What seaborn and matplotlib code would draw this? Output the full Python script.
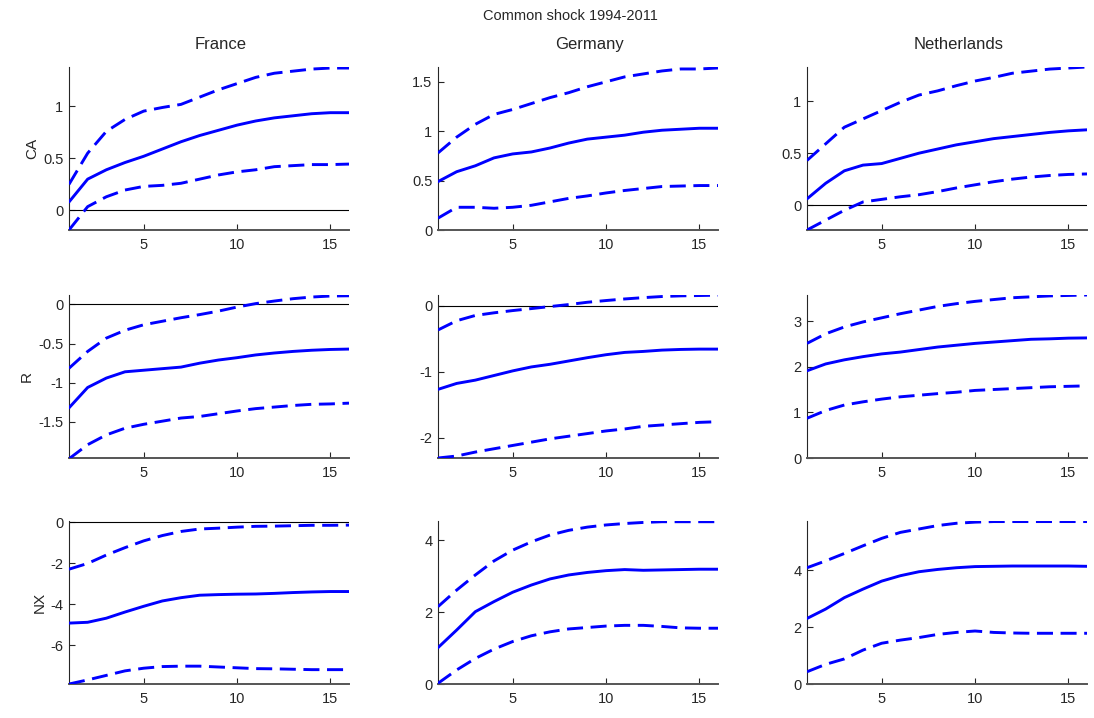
import matplotlib
matplotlib.use("Agg")
import matplotlib.pyplot as plt
import pandas as pd
import seaborn as sns

horizon = list(range(1, 17))
countries = ["France", "Germany", "Netherlands"]
variables = ["CA", "R", "NX"]

# CA responses
fr_ca_mid = [0.08, 0.30, 0.39, 0.46, 0.52, 0.59, 0.66, 0.72, 0.77, 0.82, 0.86, 0.89, 0.91, 0.93, 0.94, 0.94]
fr_ca_lo = [-0.19, 0.035, 0.13, 0.195, 0.23, 0.24, 0.26, 0.30, 0.34, 0.37, 0.39, 0.42, 0.43, 0.44, 0.44, 0.445]
fr_ca_hi = [0.25, 0.55, 0.76, 0.875, 0.955, 0.99, 1.02, 1.09, 1.16, 1.22, 1.28, 1.32, 1.34, 1.36, 1.37, 1.37]
de_ca_mid = [0.49, 0.59, 0.65, 0.73, 0.77, 0.79, 0.83, 0.88, 0.92, 0.94, 0.96, 0.99, 1.01, 1.02, 1.03, 1.03]
de_ca_lo = [0.12, 0.23, 0.23, 0.22, 0.23, 0.25, 0.285, 0.32, 0.345, 0.375, 0.40, 0.42, 0.44, 0.445, 0.45, 0.45]
de_ca_hi = [0.78, 0.94, 1.07, 1.17, 1.22, 1.28, 1.34, 1.39, 1.45, 1.50, 1.55, 1.58, 1.61, 1.63, 1.63, 1.64]
nl_ca_mid = [0.06, 0.21, 0.33, 0.385, 0.40, 0.45, 0.50, 0.54, 0.58, 0.61, 0.64, 0.66, 0.68, 0.70, 0.715, 0.725]
nl_ca_lo = [-0.24, -0.145, -0.05, 0.03, 0.055, 0.08, 0.10, 0.13, 0.165, 0.195, 0.225, 0.25, 0.27, 0.285, 0.295, 0.30]
nl_ca_hi = [0.43, 0.59, 0.75, 0.83, 0.91, 0.99, 1.06, 1.10, 1.15, 1.195, 1.23, 1.27, 1.29, 1.31, 1.32, 1.33]

# R responses
fr_r_mid = [-1.32, -1.06, -0.94, -0.86, -0.84, -0.82, -0.80, -0.75, -0.71, -0.68, -0.645, -0.62, -0.60, -0.585, -0.575, -0.57]
fr_r_lo = [-1.97, -1.79, -1.665, -1.58, -1.53, -1.49, -1.45, -1.43, -1.395, -1.36, -1.33, -1.31, -1.29, -1.275, -1.27, -1.26]
fr_r_hi = [-0.815, -0.60, -0.43, -0.33, -0.26, -0.215, -0.17, -0.13, -0.086, -0.034, 0.01, 0.043, 0.073, 0.094, 0.107, 0.11]
de_r_mid = [-1.27, -1.18, -1.13, -1.06, -0.99, -0.93, -0.89, -0.84, -0.79, -0.745, -0.71, -0.695, -0.675, -0.665, -0.66, -0.66]
de_r_lo = [-2.31, -2.28, -2.22, -2.17, -2.12, -2.07, -2.02, -1.98, -1.94, -1.90, -1.87, -1.83, -1.81, -1.79, -1.77, -1.76]
de_r_hi = [-0.37, -0.23, -0.15, -0.11, -0.076, -0.046, -0.015, 0.015, 0.05, 0.076, 0.10, 0.12, 0.137, 0.147, 0.152, 0.157]
nl_r_mid = [1.91, 2.06, 2.15, 2.22, 2.28, 2.32, 2.375, 2.43, 2.47, 2.51, 2.54, 2.57, 2.60, 2.61, 2.625, 2.63]
nl_r_lo = [0.87, 1.04, 1.16, 1.23, 1.29, 1.34, 1.375, 1.41, 1.44, 1.48, 1.50, 1.52, 1.54, 1.56, 1.57, 1.58]
nl_r_hi = [2.51, 2.72, 2.87, 2.98, 3.07, 3.16, 3.24, 3.32, 3.38, 3.43, 3.47, 3.51, 3.53, 3.55, 3.56, 3.57]

# NX responses
fr_nx_mid = [-4.93, -4.89, -4.69, -4.39, -4.11, -3.85, -3.69, -3.57, -3.54, -3.52, -3.51, -3.48, -3.44, -3.41, -3.39, -3.39]
fr_nx_lo = [-7.9, -7.70, -7.48, -7.26, -7.13, -7.05, -7.03, -7.03, -7.07, -7.11, -7.15, -7.16, -7.18, -7.20, -7.20, -7.20]
fr_nx_hi = [-2.30, -2.02, -1.61, -1.25, -0.92, -0.66, -0.46, -0.34, -0.30, -0.25, -0.21, -0.20, -0.18, -0.16, -0.16, -0.15]
de_nx_mid = [1.01, 1.50, 2.01, 2.29, 2.55, 2.75, 2.92, 3.03, 3.10, 3.15, 3.18, 3.16, 3.17, 3.18, 3.19, 3.19]
de_nx_lo = [0.02, 0.39, 0.71, 0.97, 1.18, 1.34, 1.45, 1.53, 1.57, 1.61, 1.63, 1.63, 1.60, 1.56, 1.55, 1.55]
de_nx_hi = [2.15, 2.61, 3.03, 3.42, 3.72, 3.95, 4.14, 4.27, 4.36, 4.42, 4.46, 4.49, 4.51, 4.51, 4.51, 4.51]
nl_nx_mid = [2.30, 2.63, 3.03, 3.33, 3.61, 3.80, 3.94, 4.02, 4.08, 4.12, 4.13, 4.14, 4.14, 4.14, 4.14, 4.13]
nl_nx_lo = [0.43, 0.69, 0.88, 1.19, 1.43, 1.54, 1.63, 1.74, 1.81, 1.86, 1.81, 1.79, 1.78, 1.78, 1.78, 1.78]
nl_nx_hi = [4.08, 4.32, 4.58, 4.85, 5.11, 5.32, 5.44, 5.56, 5.64, 5.68, 5.70, 5.70, 5.70, 5.70, 5.70, 5.70]

panels = {
    ("CA", "France"): (fr_ca_mid, fr_ca_lo, fr_ca_hi),
    ("CA", "Germany"): (de_ca_mid, de_ca_lo, de_ca_hi),
    ("CA", "Netherlands"): (nl_ca_mid, nl_ca_lo, nl_ca_hi),
    ("R", "France"): (fr_r_mid, fr_r_lo, fr_r_hi),
    ("R", "Germany"): (de_r_mid, de_r_lo, de_r_hi),
    ("R", "Netherlands"): (nl_r_mid, nl_r_lo, nl_r_hi),
    ("NX", "France"): (fr_nx_mid, fr_nx_lo, fr_nx_hi),
    ("NX", "Germany"): (de_nx_mid, de_nx_lo, de_nx_hi),
    ("NX", "Netherlands"): (nl_nx_mid, nl_nx_lo, nl_nx_hi),
}

# axis limits / ticks (matlab "axis tight" look)
ylims = {
    ("CA", "France"): ((-0.19, 1.38), [0, 0.5, 1]),
    ("CA", "Germany"): ((0, 1.65), [0, 0.5, 1, 1.5]),
    ("CA", "Netherlands"): ((-0.24, 1.33), [0, 0.5, 1]),
    ("R", "France"): ((-1.96, 0.12), [-1.5, -1, -0.5, 0]),
    ("R", "Germany"): ((-2.31, 0.16), [-2, -1, 0]),
    ("R", "Netherlands"): ((0, 3.57), [0, 1, 2, 3]),
    ("NX", "France"): ((-7.9, 0.05), [-6, -4, -2, 0]),
    ("NX", "Germany"): ((0, 4.53), [0, 2, 4]),
    ("NX", "Netherlands"): ((0, 5.72), [0, 2, 4]),
}

sns.set_theme(style="ticks")
plt.rcParams["font.family"] = ["Liberation Sans", "DejaVu Sans"]

W, H = 1094, 718
fig = plt.figure(figsize=(W / 100, H / 100), dpi=100)

col_left = [69, 438, 807]
row_top = [67, 295, 521]
ax_w, ax_h = 280, 163

for i, var in enumerate(variables):
    for j, country in enumerate(countries):
        ax = fig.add_axes([col_left[j] / W, 1 - (row_top[i] + ax_h) / H, ax_w / W, ax_h / H])
        mid, lo, hi = panels[(var, country)]
        df = pd.DataFrame({
            "h": horizon * 3,
            "value": lo + mid + hi,
            "band": ["lower"] * 16 + ["median"] * 16 + ["upper"] * 16,
        })
        ax.axhline(0, color="black", lw=0.8, zorder=1)
        sns.lineplot(data=df, x="h", y="value", style="band", estimator=None,
                     dashes={"median": "", "lower": (5.5, 2.6), "upper": (5.5, 2.6)},
                     color="#0000ff", linewidth=2.1, legend=False, ax=ax, zorder=3)
        lim, ticks = ylims[(var, country)]
        ax.set_xlim(1, 16)
        ax.set_ylim(*lim)
        ax.set_xticks([5, 10, 15])
        ax.set_yticks(ticks)
        ax.set_yticklabels([f"{t:g}" for t in ticks])
        ax.set_xlabel("")
        ax.set_ylabel(var if j == 0 else "", fontsize=11, labelpad=3)
        ax.tick_params(direction="in", length=4, width=0.8, labelsize=10.5,
                       colors="#262626", pad=6)
        ax.tick_params(axis="y", pad=4)
        for s in ["top", "right"]:
            ax.spines[s].set_visible(False)
        ax.spines["left"].set_color("#262626")
        ax.spines["left"].set_linewidth(0.8)
        ax.spines["bottom"].set_color("#555555")
        ax.spines["bottom"].set_linewidth(1.4)
        if i == 0:
            ax.set_title(country, fontsize=12, pad=13, x=0.54)

fig.suptitle("Common shock 1994-2011", fontsize=10.5, x=0.521, y=0.988)
fig.savefig("out.png", dpi=100)
